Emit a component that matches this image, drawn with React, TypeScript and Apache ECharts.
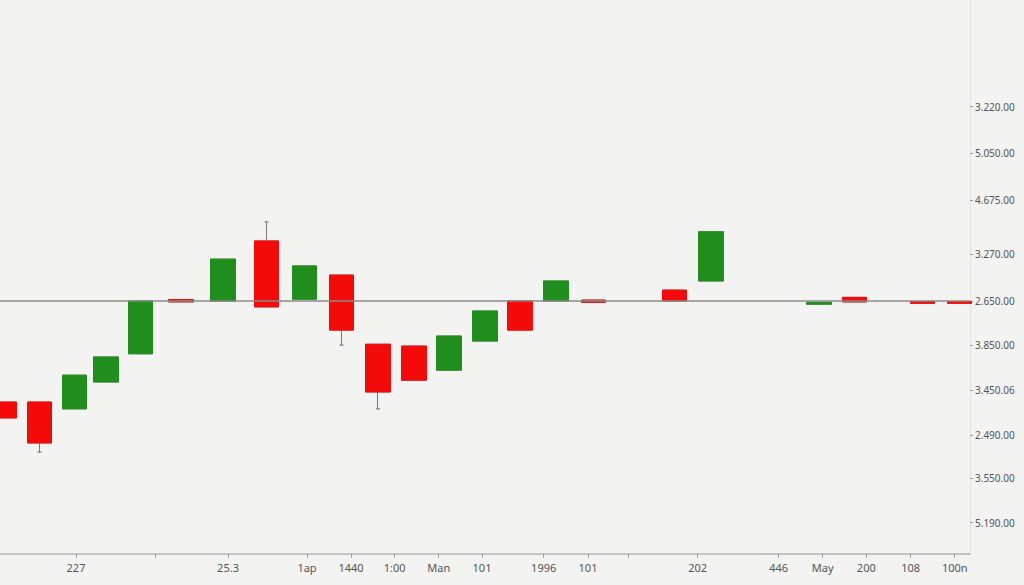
import React, { useEffect, useRef } from "react";
import * as echarts from "echarts";

// Candles: x position (in slot units), open, close, low, high
const candleX = [0.114, 1.07, 2.019, 2.873, 3.808, 4.905, 6.043, 7.222, 8.255, 9.255, 10.244, 11.22, 12.168, 13.144, 14.092, 15.068, 16.084, 18.285, 19.268, 22.195, 23.157, 25.0, 26.003];
const opens = [77.8, 77.8, 76.3, 82.2, 88.4, 100.3, 100, 113.2, 100.4, 105.7, 90.5, 90.1, 84.8, 91.2, 100, 100, 100.2, 102.4, 104.4, 99.3, 100.8, 99.9, 99.9];
const closes = [74.3, 68.8, 83.7, 87.7, 100, 99.8, 109.2, 98.7, 107.7, 93.6, 80.0, 82.6, 92.3, 97.8, 93.6, 104.4, 99.7, 100, 115.2, 99.7, 99.8, 99.5, 99.5];
const lows = [74.3, 66.8, 76.3, 82.2, 88.4, 99.8, 100, 98.7, 100.4, 90.3, 76.3, 82.6, 84.8, 91.2, 93.6, 100, 99.7, 100, 104.4, 99.3, 99.8, 99.5, 99.5];
const highs = [77.8, 77.8, 83.7, 87.7, 100, 100.3, 109.2, 117.4, 107.7, 105.7, 90.5, 90.1, 92.3, 97.8, 100, 104.4, 100.2, 102.4, 115.2, 99.7, 100.8, 99.9, 99.9];

// Axis ticks and labels
const xTickValues = [2.06, 4.22, 6.179, 8.32, 9.512, 10.696, 11.889, 13.062, 14.734, 15.935, 17.038, 18.908, 21.103, 22.295, 23.477, 24.68, 25.873];
const xTickLabels = ["227", "", "25.3", "1ap", "1440", "1:00", "Man", "101", "1996", "101", "", "202", "446", "May", "200", "108", "100n"];
const yTickValues = [142.7, 132.5, 122.2, 110.3, 100, 90.3, 80.4, 70.5, 61, 51.3];
const yTickLabels = ["3.220.00", "5.050.00", "4.675.00", "3.270.00", "2.650.00", "3.850.00", "3.450.06", "2.490.00", "3.550.00", "5.190.00"];
const levelValue = 100;

const X_MIN = 0;
const X_MAX = 26.287;
const Y_MIN = 44.4;
const Y_MAX = 166.15;

function findLabel(values: number[], labels: string[], v: number) {
  for (let i = 0; i < values.length; i++) {
    if (Math.abs(values[i] - v) < 1e-6) return labels[i];
  }
  return "";
}

export default function App() {
  const ref = useRef<HTMLDivElement>(null);
  useEffect(() => {
    if (!ref.current) return;
    const chart = echarts.init(ref.current, null, { renderer: "svg" });

    const full = candleX.map((x, i) => [x, opens[i], closes[i], lows[i], highs[i]]);
    const bodies = candleX.map((x, i) => [
      x,
      opens[i],
      closes[i],
      Math.min(opens[i], closes[i]),
      Math.max(opens[i], closes[i]),
    ]);
    const caps: number[][] = [];
    candleX.forEach((x, i) => {
      const top = Math.max(opens[i], closes[i]);
      const bot = Math.min(opens[i], closes[i]);
      if (highs[i] > top + 0.5) caps.push([x, highs[i]]);
      if (lows[i] < bot - 0.5) caps.push([x, lows[i]]);
    });

    const red = "#f50a0a";
    const green = "#208e1c";

    chart.setOption({
      animation: false,
      backgroundColor: "#f3f3f2",
      textStyle: { fontFamily: "Noto Sans" },
      grid: { left: 0, right: 54, top: 0, bottom: 31, containLabel: false },
      xAxis: {
        type: "value",
        min: X_MIN,
        max: X_MAX,
        splitLine: { show: false },
        axisLine: { show: true, onZero: false, lineStyle: { color: "#b4b4b4", width: 1.5 } },
        axisTick: { show: true, length: 4, lineStyle: { color: "#a0a0a0" }, customValues: xTickValues },
        axisLabel: {
          show: true,
          customValues: xTickValues,
          color: "#555",
          fontSize: 11,
          margin: 8,
          formatter: (v: number) => findLabel(xTickValues, xTickLabels, v),
        },
      },
      yAxis: {
        type: "value",
        position: "right",
        min: Y_MIN,
        max: Y_MAX,
        splitLine: { show: false },
        axisLine: { show: true, onZero: false, lineStyle: { color: "#e2e2e2", width: 1 } },
        axisTick: { show: true, length: 3, lineStyle: { color: "#999" }, customValues: yTickValues },
        axisLabel: {
          show: true,
          customValues: yTickValues,
          color: "#555",
          fontSize: 10,
          margin: 5,
          formatter: (v: number) => findLabel(yTickValues, yTickLabels, v),
        },
      },
      series: [
        {
          name: "wicks",
          type: "candlestick",
          z: 1,
          barWidth: 25,
          clip: true,
          data: full,
          itemStyle: {
            color: "transparent",
            color0: "transparent",
            borderColor: "#7a7a7a",
            borderColor0: "#7a7a7a",
            borderWidth: 1,
          },
          markLine: {
            silent: true,
            symbol: ["none", "none"],
            label: { show: false },
            lineStyle: { color: "#8a8a8a", width: 1.5, type: "solid" },
            data: [{ yAxis: levelValue }],
          },
        },
        {
          name: "caps",
          type: "scatter",
          z: 1,
          symbol: "rect",
          symbolSize: [4, 1.5],
          itemStyle: { color: "#7a7a7a" },
          data: caps,
        },
        {
          name: "bodies",
          type: "candlestick",
          z: 3,
          barWidth: 25,
          clip: true,
          data: bodies,
          itemStyle: {
            color: green,
            color0: red,
            borderColor: green,
            borderColor0: red,
            borderWidth: 1,
          },
        },
      ],
    });

    return () => chart.dispose();
  }, []);

  return (
    <div
      ref={ref}
      style={{ position: "fixed", left: 0, top: 0, width: 1024, height: 585 }}
    />
  );
}
